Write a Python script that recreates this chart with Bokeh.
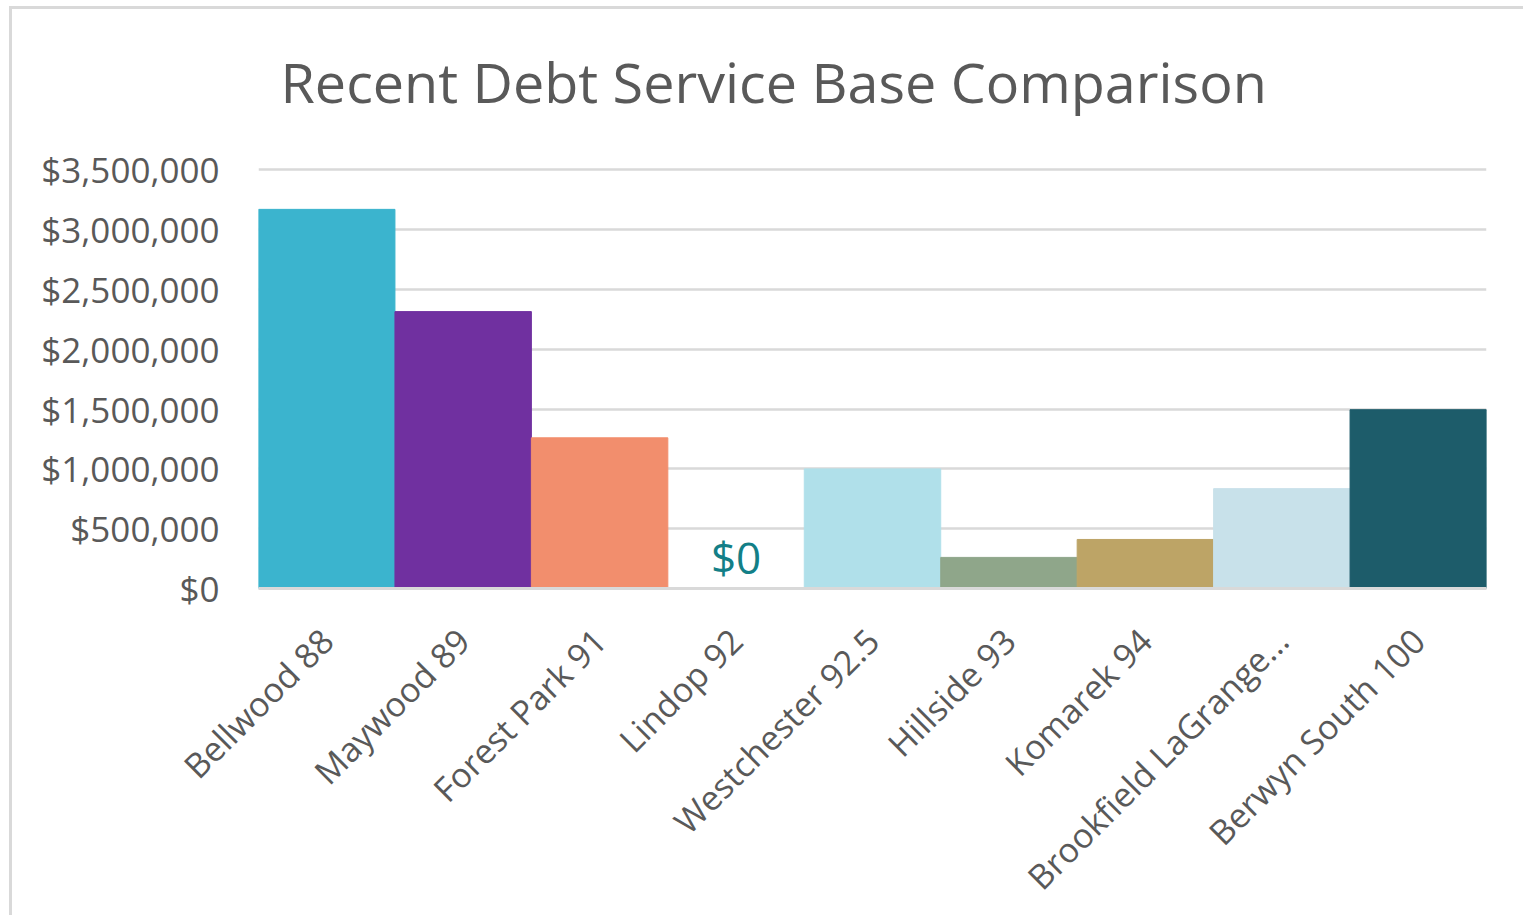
from bokeh.plotting import figure
from bokeh.models import Range1d, NumeralTickFormatter, ColumnDataSource, Title
from bokeh.core.properties import value
from bokeh.embed import file_html
from bokeh.resources import INLINE
import math

title_text = "Recent Debt Service Base Comparison"
categories = ["Bellwood 88", "Maywood 89", "Forest Park 91", "Lindop 92", "Westchester 92.5",
              "Hillside 93", "Komarek 94", "Brookfield LaGrange...", "Berwyn South 100"]
values = [3170000, 2315000, 1260000, 0, 1000000, 260000, 410000, 835000, 1495000]
colors = ["#3BB4CE", "#7030A0", "#F28E6D", "#FFFFFF", "#B0E0EA", "#8FA68A", "#BDA466", "#C8E1EA", "#1D5C6A"]
y_ticks = [0, 500000, 1000000, 1500000, 2000000, 2500000, 3000000, 3500000]

FONT = "Open Sans"
GRAY = "#595959"

p = figure(x_range=categories, y_range=Range1d(0, 3520000),
           width=1514, height=909, output_backend="svg", toolbar_location=None,
           min_border_left=246, min_border_right=40, min_border_top=158, min_border_bottom=300,
           title=title_text)
p.styles = {"margin-left": "9px", "margin-top": "6px",
            "border-left": "3px solid #d9d9d9", "border-top": "3px solid #d9d9d9"}

p.title.text_font = FONT
p.title.text_font_size = "55.7px"
p.title.text_font_style = "normal"
p.title.text_color = GRAY
p.title.align = "left"
p.title.offset = 22
p.title.standoff = 40

# small empty spacer between the title and the plot area
p.add_layout(Title(text=" ", text_font_size="1px", standoff=26), "above")

src = ColumnDataSource(dict(cat=categories, val=values, color=colors))
p.vbar(x="cat", top="val", width=1.0, source=src, fill_color="color", line_color="color", line_width=1)

zero_cats = [c for c, v in zip(categories, values) if v == 0]
zero_vals = [v for v in values if v == 0]
zero_txt = ["$" + format(v, ",") for v in zero_vals]
p.text(x=zero_cats, y=zero_vals, text=zero_txt, text_font=value(FONT), text_font_size="44px",
       text_color="#137F87", text_align="center", text_baseline="bottom", y_offset=-2)

p.outline_line_color = None
p.xgrid.grid_line_color = None
p.ygrid.grid_line_color = "#d9d9d9"
p.ygrid.grid_line_width = 2.5
p.yaxis.ticker = y_ticks
p.yaxis.formatter = NumeralTickFormatter(format="$0,0")
p.yaxis.axis_line_color = None
p.yaxis.major_tick_line_color = None
p.yaxis.minor_tick_line_color = None
p.yaxis.major_label_text_font = FONT
p.yaxis.major_label_text_font_size = "35px"
p.yaxis.major_label_text_color = GRAY
p.yaxis.major_label_standoff = 33

p.xaxis.axis_line_color = "#d9d9d9"
p.xaxis.axis_line_width = 3
p.xaxis.major_tick_line_color = None
p.xaxis.minor_tick_line_color = None
p.xaxis.major_label_orientation = math.pi / 4
p.xaxis.major_label_text_font = FONT
p.xaxis.major_label_text_font_size = "34px"
p.xaxis.major_label_text_color = GRAY
p.xaxis.major_label_standoff = 40

open("out.html", "w").write(file_html(p, INLINE))
